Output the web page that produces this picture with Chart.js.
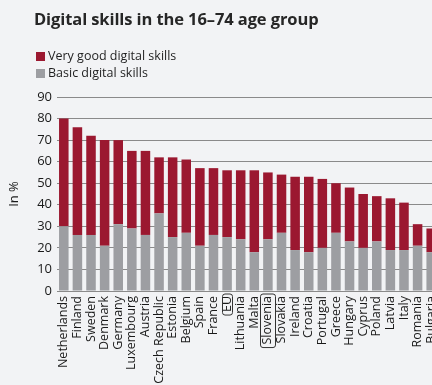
<!DOCTYPE html>
<html>
<head>
<meta charset="utf-8">
<script src="https://cdn.jsdelivr.net/npm/chart.js@4"></script>
<style>
  html, body { margin: 0; padding: 0; background: #f2f3f5; width: 432px; height: 385px; overflow: hidden; }
  #wrap { position: relative; width: 440px; height: 385px; }
  #chart { position: absolute; left: 0; top: 0; }
  h1 { position: absolute; left: 34px; top: 9px; margin: 0; font: bold 16.5px/20px "Open Sans", sans-serif; color: #262626; white-space: nowrap; letter-spacing: -0.1px; }
  .legend { position: absolute; left: 36px; font: 12.5px/16px "Open Sans", sans-serif; color: #1f1f1f; white-space: nowrap; }
  .legend i { display: inline-block; width: 9px; height: 9px; margin-right: 3px; vertical-align: -0.5px; }
</style>
</head>
<body>
<div id="wrap">
  <canvas id="chart" width="440" height="385"></canvas>
  <h1>Digital skills in the 16–74 age group</h1>
  <div class="legend" style="top:48px"><i style="background:#9b1830"></i>Very good digital skills</div>
  <div class="legend" style="top:65px"><i style="background:#9d9ea2"></i>Basic digital skills</div>
</div>
<script>
// Share of people aged 16–74 by level of digital skills, in %
const countries = ["Netherlands", "Finland", "Sweden", "Denmark", "Germany", "Luxembourg", "Austria",
  "Czech Republic", "Estonia", "Belgium", "Spain", "France", "EU", "Lithuania", "Malta", "Slovenia",
  "Slovakia", "Ireland", "Croatia", "Portugal", "Greece", "Hungary", "Cyprus", "Poland", "Latvia",
  "Italy", "Romania", "Bulgaria"];
const basicSkills = [30, 26, 26, 21, 31, 29, 26, 36, 25, 27, 21, 26, 25, 24, 18, 24,
  27, 19, 18, 20, 27, 23, 20, 23, 19, 19, 21, 18];
const veryGoodSkills = [50, 50, 46, 49, 39, 36, 39, 26, 37, 34, 36, 31, 31, 32, 38, 31,
  27, 34, 35, 32, 23, 25, 25, 21, 24, 22, 10, 11];
const yTickValues = [0, 10, 20, 30, 40, 50, 60, 70, 80, 90];
// labels drawn inside a frame
const framedLabels = ["EU", "Slovenia"];

const tickFont = { family: "Open Sans", size: 12.5 };

const labelFrames = {
  id: "labelFrames",
  afterDraw(chart) {
    const xs = chart.scales.x;
    const ctx = chart.ctx;
    ctx.save();
    ctx.font = "12.5px 'Open Sans'";
    ctx.strokeStyle = "#333";
    ctx.lineWidth = 1;
    framedLabels.forEach(name => {
      const i = countries.indexOf(name);
      const x = xs.getPixelForValue(i);
      const w = ctx.measureText(name).width;
      const top = xs.top + 2.5;
      const half = name.length > 3 ? 7.5 : 5;
      ctx.beginPath();
      ctx.roundRect(Math.round(x - half) + 0.5, top + 0.5, half * 2, w + 5, 2.5);
      ctx.stroke();
    });
    ctx.restore();
  }
};

new Chart(document.getElementById("chart"), {
  type: "bar",
  data: {
    labels: countries,
    datasets: [
      { label: "Basic digital skills", data: basicSkills, backgroundColor: "#9d9ea2" },
      { label: "Very good digital skills", data: veryGoodSkills, backgroundColor: "#9b1830" }
    ]
  },
  options: {
    responsive: false,
    animation: false,
    devicePixelRatio: 1,
    layout: { padding: { top: 97, right: 2, left: 0, bottom: 0 } },
    datasets: { bar: { categoryPercentage: 1, barPercentage: 0.7 } },
    plugins: { legend: { display: false }, title: { display: false }, tooltip: { enabled: false } },
    scales: {
      x: {
        stacked: true,
        grid: { display: false, drawTicks: false },
        border: { display: false },
        ticks: { autoSkip: false, minRotation: 90, maxRotation: 90, padding: 5, color: "#1a1a1a", font: tickFont },
        afterFit(scale) {
          scale.height = 94;
          scale.paddingLeft = 0;
          scale.paddingRight = 0;
        }
      },
      y: {
        stacked: true,
        min: 0,
        max: 90,
        afterBuildTicks(scale) { scale.ticks = yTickValues.map(v => ({ value: v })); },
        grid: { color: "#8a8a8a", lineWidth: 1, drawTicks: false },
        border: { display: false },
        ticks: { padding: 5, color: "#1a1a1a", font: { family: "Open Sans", size: 13 } },
        title: { display: true, text: "In %", color: "#1a1a1a", font: { family: "Open Sans", size: 13 }, padding: { top: 6, bottom: 0 } },
        afterFit(scale) { scale.width = 57; }
      }
    }
  },
  plugins: [labelFrames]
});
</script>
</body>
</html>
